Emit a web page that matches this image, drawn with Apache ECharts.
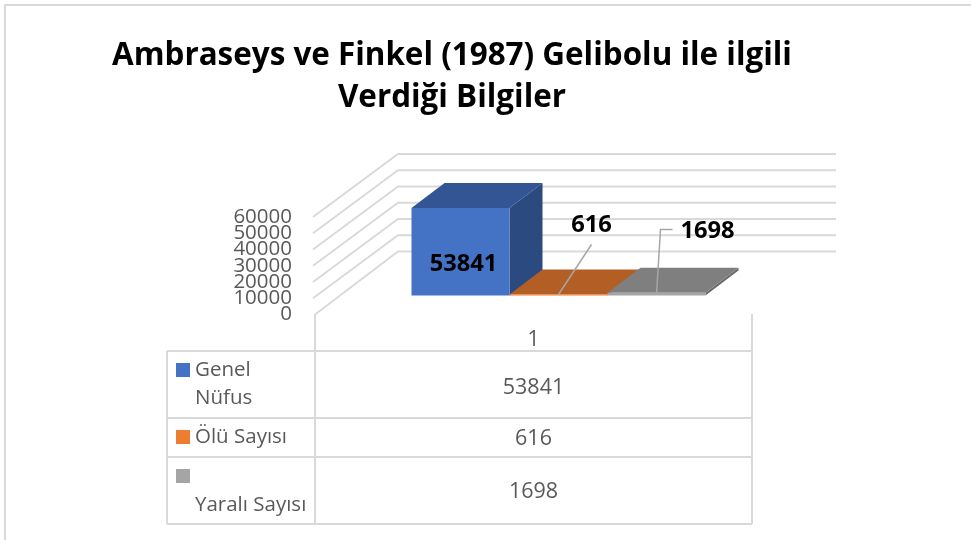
<!DOCTYPE html>
<html><head><meta charset="utf-8">
<style>html,body{margin:0;padding:0;background:#fff}#c{width:971px;height:540px}</style>
<script src="https://cdn.jsdelivr.net/npm/echarts@6/dist/echarts.min.js"></script>
</head><body><div id="c"></div>
<script>
const titleText = "Ambraseys ve Finkel (1987) Gelibolu ile ilgili\nVerdiği Bilgiler";
const categories = ["1"];
const seriesNames = ["Genel Nüfus", "Ölü Sayısı", "Yaralı Sayısı"];
const genelNufus = [53841];
const oluSayisi = [616];
const yaraliSayisi = [1698];
const yTicks = [0, 10000, 20000, 30000, 40000, 50000, 60000];

const FONT = "'Open Sans'";
const TXT = "#595959", LINE = "#D9D9D9";
const colors = [
  {front:"#4472C4", top:"#335593", side:"#2A4A80"},
  {front:"#ED7D31", top:"#B35E25", side:"#9C5120"},
  {front:"#A5A5A5", top:"#7F7F7F", side:"#6B6B6B"}
];
const G = {left:315, right:752, top:217, bottom:314.5};
const WALL = {dx:83, dy:-63, w:438};
const FRONT = {dx:25, dy:-19}, DEPTH = {dx:33, dy:-25};
const BAR_W = 98;

function wallItem(params, api){
  const p = api.coord([0, api.value(1)]);
  const x0 = G.left - (api.value(1) > 0 ? 2 : 0), y0 = p[1];
  return {type:'polyline', silent:true, shape:{points:[
    [x0,y0],[G.left+WALL.dx, G.bottom+WALL.dy-(G.bottom-y0)],[G.left+WALL.dx+WALL.w, G.bottom+WALL.dy-(G.bottom-y0)]
  ]}, style:{fill:'none', stroke:LINE, lineWidth:1.8}};
}
function barRender(idx){
  return function(params, api){
    const base = api.coord([0,0]), top = api.coord([0,api.value(1)]);
    const size = api.size([1,0])[0];
    const x0 = base[0] - size/2 + (size - 3*BAR_W)/2 + FRONT.dx + idx*BAR_W;
    const x1 = x0 + BAR_W;
    const yb = base[1] + FRONT.dy, yt = top[1] + FRONT.dy;
    const c = colors[idx], d = DEPTH;
    const kids = [
      {type:'polygon', shape:{points:[[x1,yb],[x1+d.dx,yb+d.dy],[x1+d.dx,yt+d.dy],[x1,yt]]}, style:{fill:c.side}},
      {type:'polygon', shape:{points:[[x0,yt],[x1,yt],[x1+d.dx,yt+d.dy],[x0+d.dx,yt+d.dy]]}, style:{fill:c.top}},
      {type:'rect', shape:{x:x0,y:yt,width:BAR_W,height:Math.max(yb-yt,1)}, style:{fill:c.front}}
    ];
    const val = String(api.value(1));
    const lab = (t,x,y)=>({type:'text', style:{text:t,x:x,y:y,align:'center',verticalAlign:'middle',fill:'#000',font:"bold 23.7px "+FONT}});
    const lead = pts=>({type:'polyline', shape:{points:pts}, style:{fill:'none',stroke:'#A6A6A6',lineWidth:1.5}});
    if(idx===0) kids.push(lab(val, x0+52, yb-31));
    if(idx===1){ kids.push(lead([[x0+49,yb-1],[x0+82,yb-51]])); kids.push(lab(val, x0+82, yb-70)); }
    if(idx===2){ kids.push(lead([[x0+49,yb-1],[x0+53,yb-66],[x0+65,yb-66]])); kids.push(lab(val, x0+100, yb-64)); }
    return {type:'group', children:kids};
  };
}
const barData = [genelNufus, oluSayisi, yaraliSayisi];
const series = [
  {type:'custom', name:'grid', silent:true, z:1, coordinateSystem:'cartesian2d', renderItem:wallItem, clip:false,
   encode:{x:0,y:1}, data:yTicks.map(v=>[0,v])}
].concat(barData.map((vals,i)=>({
  type:'custom', name:seriesNames[i], z:3+i, coordinateSystem:'cartesian2d', renderItem:barRender(i), clip:false,
  encode:{x:0,y:1}, itemStyle:{color:colors[i].front}, data:vals.map((v,k)=>[k,v])
})));

// data table
const rows = [351,418,457,524];
const TL=167, TM=315, TR=752;
const tbl = [];
const ln=(x1,y1,x2,y2)=>({type:'line',silent:true,shape:{x1,y1,x2,y2},style:{stroke:LINE,lineWidth:2}});
const tx=(t,x,y,align,size)=>({type:'text',silent:true,style:{text:t,x,y,align:align||'left',verticalAlign:'middle',fill:TXT,font:(size||20.5)+"px "+FONT}});
rows.forEach(y=>tbl.push(ln(TL,y,TR,y)));
tbl.push(ln(TL,rows[0],TL,rows[3]), ln(TM,314,TM,rows[3]), ln(TR,314,TR,rows[3]));
const sw=(i,y)=>({type:'rect',silent:true,shape:{x:176,y,width:14,height:14},style:{fill:colors[i].front}});
tbl.push(sw(0,363),sw(1,430),sw(2,469));
tbl.push(tx("Genel",195,370),tx("Nüfus",195,398.5),tx(seriesNames[1],195,437),tx(seriesNames[2],195,505));
const vc=(TM+TR)/2;
tbl.push(tx(String(genelNufus[0]),vc,388,'center',21.5),tx(String(oluSayisi[0]),vc,439,'center',21.5),tx(String(yaraliSayisi[0]),vc,492,'center',21.5));
tbl.push({type:'rect',silent:true,shape:{x:5,y:5,width:990,height:560},style:{fill:'none',stroke:LINE,lineWidth:2}});

// The ticks sit closer than the label height, so they are split over two
// coincident axes to keep ECharts from dropping the overlapping ones.
const yAxisFor = parity => ({
  type:'value',position:'left',min:0,max:60000,interval:10000,
  axisLine:{show:false},axisTick:{show:false},splitLine:{show:false},
  axisLabel:{color:TXT,fontFamily:FONT,fontSize:20.5,margin:23,hideOverlap:false,padding:[3,0,0,0],
    customValues:yTicks.filter((v,i)=>i%2===parity),formatter:v=>String(v)}
});

const chart = echarts.init(document.getElementById('c'),null,{renderer:'canvas'});
chart.setOption({
  animation:false,
  backgroundColor:'#fff',
  title:{text:titleText,left:447,top:30,textAlign:'center',
    textStyle:{fontFamily:FONT,fontWeight:'bold',fontSize:31.4,lineHeight:42,color:'#000'}},
  grid:{left:G.left,top:G.top,width:G.right-G.left,height:G.bottom-G.top,containLabel:false,outerBoundsMode:'none'},
  xAxis:{type:'category',data:categories,axisLine:{show:false},axisTick:{show:false},
    axisLabel:{color:TXT,fontFamily:FONT,fontSize:21,margin:15}},
  yAxis:[yAxisFor(0),yAxisFor(1)],
  series,
  graphic:{elements:tbl}
});
</script></body></html>
